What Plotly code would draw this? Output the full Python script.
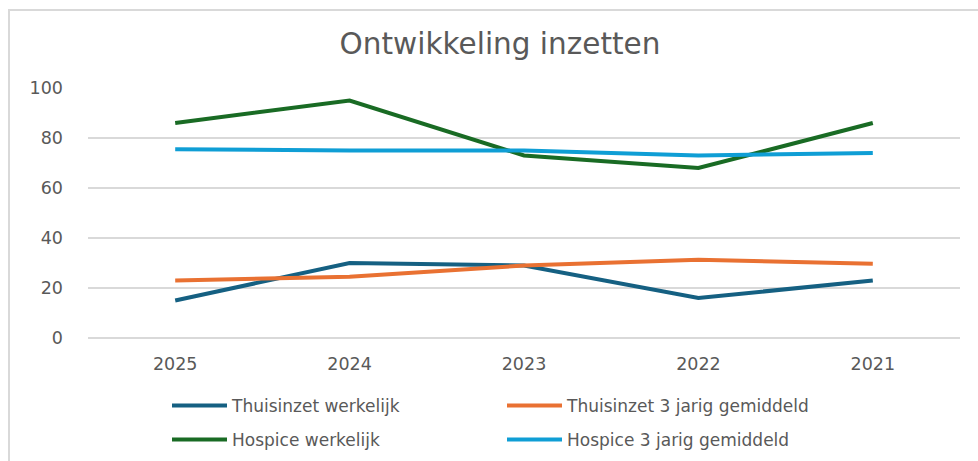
import plotly.graph_objects as go

years = ["2025", "2024", "2023", "2022", "2021"]
thuis_werkelijk = [15, 30, 29, 16, 23]
thuis_gem = [23, 24.5, 29, 31.3, 29.7]
hospice_werkelijk = [86, 95, 73, 68, 86]
hospice_gem = [75.5, 75, 75, 73, 74]

series = [
    ("Thuisinzet werkelijk", thuis_werkelijk, "#156082", "legend"),
    ("Thuisinzet 3 jarig gemiddeld", thuis_gem, "#E97132", "legend2"),
    ("Hospice werkelijk", hospice_werkelijk, "#196B24", "legend3"),
    ("Hospice 3 jarig gemiddeld", hospice_gem, "#0F9ED5", "legend4"),
]

W, H = 978, 461
L, R, T, B = 88, 18, 88, 123
pw, ph = W - L - R, H - T - B

def px_x(p):
    return (p - L) / pw

def px_y(p):
    return (H - B - p) / ph

fig = go.Figure()
for name, vals, col, lg in series:
    fig.add_trace(go.Scatter(
        x=years, y=vals, name=name, mode="lines",
        line=dict(color=col, width=4), legend=lg,
    ))

font_family = "DejaVu Sans, Liberation Sans, Arial, sans-serif"
legend_common = dict(
    orientation="v", xanchor="left", yanchor="middle",
    xref="container", yref="container",
    font=dict(family=font_family, size=17, color="#595959"),
    itemwidth=55,
    bgcolor="rgba(0,0,0,0)", borderwidth=0,
)

col1, col2 = 167, 502
row1, row2 = 406, 440

fig.update_layout(
    width=W, height=H,
    margin=dict(l=L, r=R, t=T, b=B, pad=0, autoexpand=False),
    paper_bgcolor="white", plot_bgcolor="white",
    title=dict(text="Ontwikkeling inzetten", x=500 / W, xref="container", xanchor="center",
               y=1 - 44 / H, yref="container", yanchor="middle",
               font=dict(family=font_family, size=29.5, color="#595959")),
    xaxis=dict(range=[-0.5, 4.5], showgrid=False, showline=False, ticks="",
               tickangle=0,
               tickfont=dict(family=font_family, size=17.5, color="#595959"),
               ticklabelstandoff=13, fixedrange=True),
    yaxis=dict(range=[0, 100], dtick=20, showgrid=True, gridcolor="#D9D9D9", gridwidth=1.5,
               zeroline=True, zerolinecolor="#D9D9D9", zerolinewidth=1.5,
               showline=False, ticks="",
               tickfont=dict(family=font_family, size=17.5, color="#595959"),
               ticklabelstandoff=24, fixedrange=True),
    legend=dict(x=col1 / W, y=1 - row1 / H, **legend_common),
    legend2=dict(x=col2 / W, y=1 - row1 / H, **legend_common),
    legend3=dict(x=col1 / W, y=1 - row2 / H, **legend_common),
    legend4=dict(x=col2 / W, y=1 - row2 / H, **legend_common),
    showlegend=True,
    shapes=[dict(type="rect", xref="paper", yref="paper",
                 x0=px_x(9), x1=px_x(1100), y0=px_y(520), y1=px_y(10),
                 line=dict(color="#D9D9D9", width=2), fillcolor="rgba(0,0,0,0)", layer="below")],
)

fig.write_html("out.html", config={"displayModeBar": False},
               post_script="document.body.style.margin='0';")
